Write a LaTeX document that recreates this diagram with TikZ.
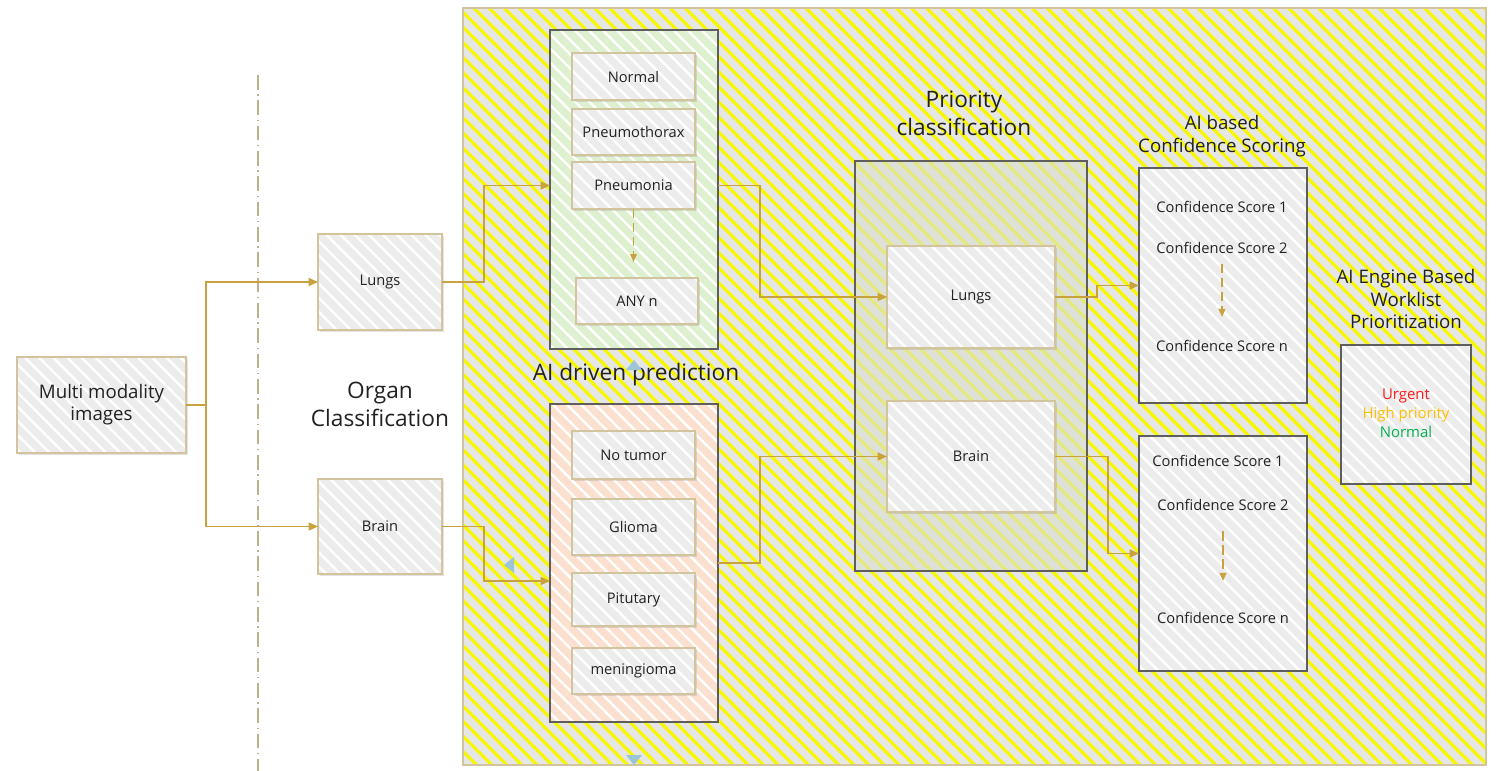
\documentclass[tikz,border=0pt]{standalone}
\usepackage{fontspec}
\setmainfont{Open Sans}
\usetikzlibrary{patterns.meta,shadows,arrows.meta}
\definecolor{bg}{HTML}{E6E6E6}
\definecolor{hatchc}{HTML}{F7F700}
\definecolor{conn}{HTML}{C9A23E}
\definecolor{boxfill}{HTML}{ECECEC}
\definecolor{boxline}{HTML}{D2C49C}
\definecolor{frame}{HTML}{5E5E5E}
\definecolor{lgreen}{HTML}{DDF0CF}
\definecolor{lpink}{HTML}{FCE0CF}
\definecolor{pgreen}{HTML}{D9DFCF}
\definecolor{txt}{HTML}{222222}
\definecolor{handleblue}{HTML}{9CC5D6}
\definecolor{urg}{HTML}{FF1A1A}
\definecolor{hip}{HTML}{FFC000}
\definecolor{nor}{HTML}{00B050}
\begin{document}
\begin{tikzpicture}[x=0.75pt,y=-0.75pt,
  sz/.style 2 args={minimum width=#1*0.75pt, minimum height=#2*0.75pt},
  whitepat/.style={fill opacity=0.25, pattern={Lines[angle=-45,distance=7.5pt,line width=1.8pt]}, pattern color=white},
  box/.style={draw=boxline, line width=0.9pt, inner sep=0pt, outer sep=0pt, text=txt,
    font=\fontsize{11}{13}\selectfont,
    drop shadow={shadow xshift=1.2pt, shadow yshift=-1.2pt, opacity=0.22},
    preaction={fill=boxfill}, preaction={whitepat}},
  cont/.style={draw=frame, line width=1pt, inner sep=0pt, outer sep=0pt, preaction={fill=#1}, preaction={whitepat}},
  ttl/.style={font=\fontsize{17}{21}\selectfont, text=txt, align=center},
  sttl/.style={font=\fontsize{14}{16.8}\selectfont, text=txt, align=center},
  stext/.style={font=\fontsize{11}{13}\selectfont, text=txt},
  conn/.style={draw=conn, line width=1.1pt, -{Triangle[length=7pt,width=6pt]}},
  dasharrow/.style={draw=conn, line width=1.2pt, dash pattern=on 7pt off 3.5pt, -{Triangle[length=6pt,width=5pt]}}
]
\useasboundingbox (0,0) rectangle (1496,771);
\fill[white] (0,0) rectangle (1496,771);

% outer hatched area
\fill[bg] (463,8) rectangle (1486,765);
\fill[pattern={Lines[angle=-45,distance=8pt,line width=2.4pt]}, pattern color=hatchc] (463,8) rectangle (1486,765);
\draw[boxline, line width=0.8pt] (463,8) rectangle (1486,765);

% dash-dot separator
\draw[draw=boxline!90!black, line width=1pt, dash pattern=on 11pt off 3.5pt on 1pt off 3.5pt] (258,75) -- (258,771);

% left column
\node[box, sz={169}{96}, font=\fontsize{14}{16.5}\selectfont, align=center] (multi) at (101.5,405) {Multi modality\\images};
\node[box, sz={124}{96}] (lungsA) at (380,282) {Lungs};
\node[box, sz={124}{95}] (brainA) at (380,526.5) {Brain};
\node[ttl] (organ) at (380,404) {Organ\\Classification};

% prediction containers
\node[cont=lgreen, sz={168}{319}] (lcont) at (634,189.5) {};
\node[box, sz={123}{47}] (normal) at (633.5,76.5) {Normal};
\node[box, sz={123}{46}] (pneumo) at (633.5,132) {Pneumothorax};
\node[box, sz={123}{47}] (pneu) at (633.5,185.5) {Pneumonia};
\node[box, sz={122}{46}] (anyn) at (637,301) {ANY n};
\draw[dasharrow, shorten >=12pt] (pneu) -- (pneu |- anyn.north);

\node[cont=lpink, sz={168}{318}] (bcont) at (634,563) {};
\node[box, sz={123}{48}] (notumor) at (633.5,455) {No tumor};
\node[box, sz={123}{56}] (glioma) at (633.5,527) {Glioma};
\node[box, sz={123}{53}] (pitu) at (633.5,599.5) {Pitutary};
\node[box, sz={123}{46}] (menin) at (633.5,671) {meningioma};
\node[ttl] (aidriven) at (636,375) {AI driven prediction};

% priority classification
\node[draw=frame, line width=1pt, inner sep=0pt, sz={232}{410}, preaction={fill=pgreen, fill opacity=0.6}] (pcont) at (971,366) {};
\node[ttl] (ptitle) at (964,113) {Priority\\classification};
\node[box, sz={168}{102}] (pL) at (971,297) {Lungs};
\node[box, sz={168}{111}] (pB) at (971,456.5) {Brain};

% confidence scoring
\node[sttl] (ctitle) at (1222,136) {AI based\\Confidence Scoring};
\node[cont=boxfill, sz={168}{235}] (conf1) at (1223,285.5) {};
\node[stext] (c1s1) at (1222,207) {Confidence Score 1};
\node[stext] (c1s2) at (1222,248) {Confidence Score 2};
\node[stext] (c1sn) at (1222,346) {Confidence Score n};
\draw[dasharrow, shorten <=4pt, shorten >=14pt] (c1s2) -- (c1sn);

\node[cont=boxfill, sz={168}{235}] (conf2) at (1223,553.5) {};
\node[stext] (c2s1) at (1218,461) {Confidence Score 1};
\node[stext] (c2s2) at (1223,505) {Confidence Score 2};
\node[stext] (c2sn) at (1223,618) {Confidence Score n};
\draw[dasharrow, shorten <=12pt, shorten >=20pt] (c2s2) -- (c2sn);

% worklist
\node[sttl, font=\fontsize{14}{17.2}\selectfont] (wtitle) at (1406,299) {AI Engine Based\\Worklist\\Prioritization};
\node[cont=boxfill, sz={130}{139}] (work) at (1406,414.5) {};
\node[stext, align=center, font=\fontsize{11.2}{14.3}\selectfont] (wtext) at (1406,413)
  {\textcolor{urg}{Urgent}\\\textcolor{hip}{High priority}\\\textcolor{nor}{Normal}};

% connectors
\draw[conn] (multi.east) -- ++(20,0) |- (lungsA.west);
\draw[conn] (multi.east) -- ++(20,0) |- (brainA.west);
\draw[conn] (lungsA.east) -- ++(42,0) |- (lcont.west |- pneu);
\coordinate (bin) at (550,581);
\draw[conn] (brainA.east) -- ++(42,0) |- (bin);
\draw[conn] (lcont.east |- pneu) -- ++(42,0) |- (pL.west);
\draw[conn] (bcont.east) -- ++(42,0) |- (pB.west);
\draw[conn] (pL.east) -- ++(42,0) |- (conf1.west);
\draw[conn] (pB.east) -- ++(53,0) |- (conf2.west);

% small connection-handle markers
\fill[handleblue] (504,565) -- (514,557) -- (514,573) -- cycle;
\fill[handleblue] (626,370) -- (634,360) -- (642,370) -- cycle;
\fill[handleblue] (626,755) -- (642,755) -- (634,765) -- cycle;
\end{tikzpicture}
\end{document}
